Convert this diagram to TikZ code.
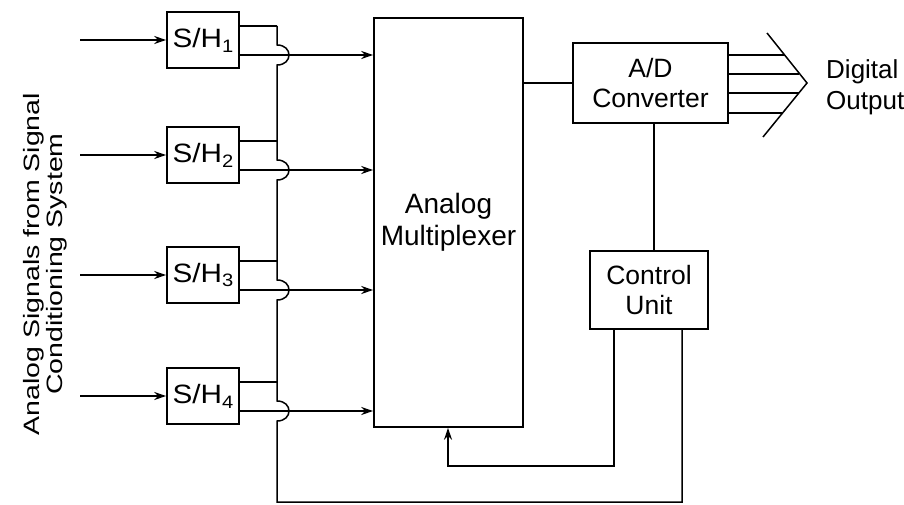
\documentclass[tikz,border=0pt]{standalone}
\usepackage{fontspec}
\setmainfont{Liberation Sans}
\usetikzlibrary{arrows.meta}
\begin{document}
\begin{tikzpicture}[x=1pt,y=-1pt,
  blk/.style={draw, line width=1.6pt, inner sep=0pt, align=center, font=\fontsize{26.5}{30}\selectfont},
  wire/.style={line width=1.5pt},
  arr/.style={wire, -{Stealth[length=12pt,width=8pt]}},
  lbl/.style={font=\fontsize{26}{31}\selectfont, inner sep=0pt}
]
\useasboundingbox (0,0) rectangle (904,505);
% sample and hold boxes
\foreach \i/\c in {1/40,2/155,3/275,4/396} {
  \node[blk, minimum width=72pt, minimum height=56pt] (sh\i) at (203,\c)
    {\scalebox{1.12}[1]{S/H\raisebox{-0.35ex}{\fontsize{18}{18}\selectfont\i}}};
  \coordinate (in\i) at (80,\c);
  \coordinate (t\i) at (277,\c-14);
  \coordinate (b\i) at (277,\c+15);
}
\node[blk, minimum width=149pt, minimum height=409pt, font=\fontsize{28}{32}\selectfont] (mux) at (448.5,222.5) {Analog\\Multiplexer};
\node[blk, minimum width=155pt, minimum height=80pt] (ad) at (650.5,83) {A/D\\Converter};
\node[blk, minimum width=118pt, minimum height=78pt] (cu) at (649,290) {Control\\Unit};

% inputs and outputs of S/H
\foreach \i in {1,2,3,4} {
  \draw[arr] (in\i) -- (sh\i.west);
  \draw[wire] (sh\i.east |- t\i) -- (t\i);
  \draw[arr] (sh\i.east |- b\i) -- (mux.west |- b\i);
}
% bus with hops
\coordinate (bl) at (277,502);
\coordinate (br) at (682,502);
\draw[wire] (t1)
  \foreach \c in {40,155,275,396} { -- (277,\c+5) .. controls (293,\c+5) and (293,\c+25) .. (277,\c+25) }
  -- (bl) -- (br) -- (br |- cu.south);

% mux to A/D, A/D to control
\coordinate (v) at (654,200);
\draw[wire] (mux.east |- ad.west) -- (ad.west);
\draw[wire] (ad.south -| v) -- (cu.north -| v);

% control loop to mux
\coordinate (c1) at (614,466);
\coordinate (c2) at (448,466);
\draw[arr] (cu.south -| c1) -- (c1) -- (c2) -- (c2 |- mux.south);

% digital output
\coordinate (ctop) at (767,33);
\coordinate (ctip) at (807,83);
\coordinate (cbot) at (763,137);
\draw[wire] (ctop) -- (ctip) -- (cbot);
\coordinate (d1) at (784.6,55);
\coordinate (d2) at (799,74);
\coordinate (d3) at (799,93);
\coordinate (d4) at (782.6,113);
\foreach \k in {1,2,3,4} { \draw[wire] (ad.east |- d\k) -- (d\k); }
\node[lbl, anchor=west, align=left] (dout) at (826,87) {Digital\\Output};

% side label
\node[rotate=90, inner sep=0pt] (side) at (46,264)
  {\scalebox{1}[0.78]{\fontsize{28.5}{26}\selectfont\begin{tabular}{@{}c@{}}Analog Signals from Signal\\Conditioning System\end{tabular}}};
\end{tikzpicture}
\end{document}
